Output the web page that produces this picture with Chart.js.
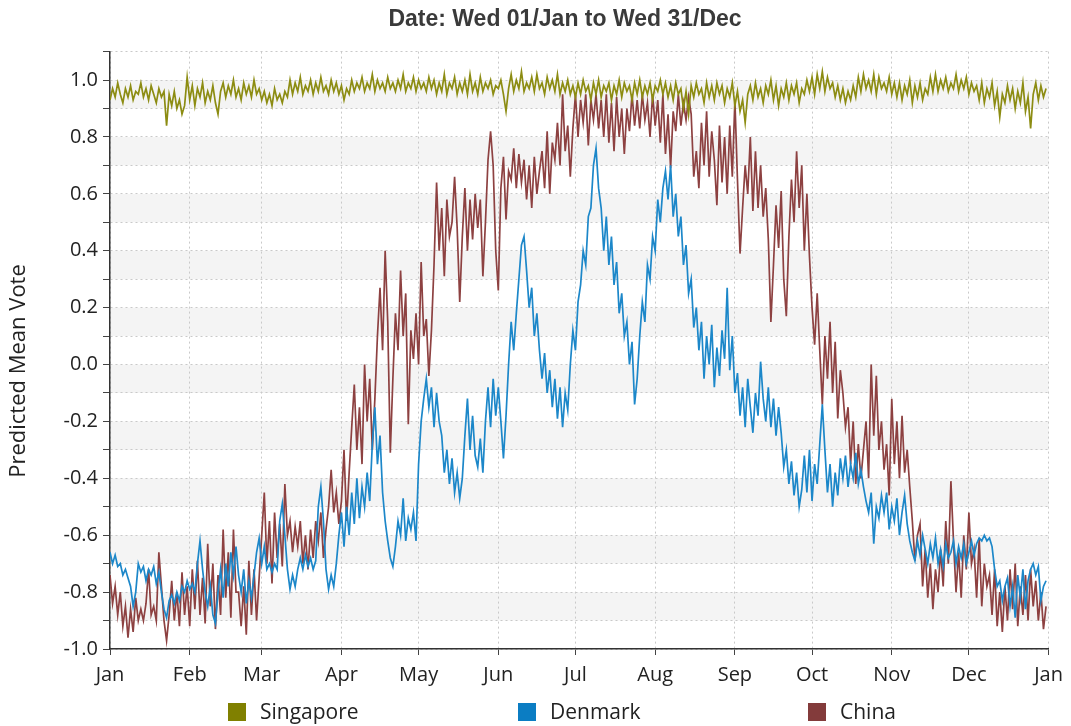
<!DOCTYPE html>
<html><head><meta charset="utf-8">
<script src="https://cdn.jsdelivr.net/npm/chart.js@4.4.1/dist/chart.umd.min.js"></script>
<style>html,body{margin:0;padding:0;background:#fff;}canvas{display:block;}</style>
</head><body>
<canvas id="c" width="1071" height="726"></canvas>
<script>
const chartTitle = 'Date: Wed 01/Jan to Wed 31/Dec';
const yAxisTitle = 'Predicted Mean Vote';
const seriesNames = ['Singapore', 'Denmark', 'China'];
const monthLabels = ['Jan','Feb','Mar','Apr','May','Jun','Jul','Aug','Sep','Oct','Nov','Dec','Jan'];
const monthStartDays = [0,31,59,90,120,151,181,212,243,273,304,334,365];

// daily values, day 0 = 1 Jan
const singapore = [
0.93,0.97,0.94,0.99,0.95,0.92,0.97,0.94,0.98,0.93,0.96,
0.95,0.99,0.94,0.97,0.93,0.98,0.95,0.92,0.97,0.94,0.96,
0.84,0.95,0.91,0.96,0.90,0.93,0.88,0.91,
1.01,0.93,0.98,0.91,0.97,0.94,0.99,0.92,0.96,0.93,0.98,
0.92,0.88,0.96,
0.99,0.94,0.98,0.95,1.00,0.94,0.97,0.93,0.99,0.95,0.98,0.94,1.00,0.95,0.97,0.93,
0.96,0.92,0.95,0.91,0.97,0.93,0.95,0.92,0.96,0.94,
1.00,0.95,0.99,0.96,1.01,0.95,0.98,0.96,1.00,0.95,0.99,0.96,1.01,0.96,0.98,0.95,1.00,0.96,0.99,0.95,0.98,
0.93,0.97,0.95,
1.00,0.96,0.99,0.97,1.01,0.96,0.99,0.97,1.02,0.96,1.00,0.97,0.99,0.96,1.01,0.97,
0.99,0.96,1.00,0.97,1.02,0.96,0.99,0.97,1.01,0.96,1.00,0.97,0.99,0.96,1.01,0.97,
1.00,0.95,0.99,0.96,1.02,0.95,0.99,0.97,1.01,0.95,0.99,0.96,1.00,0.95,1.02,0.96,0.99,0.95,1.01,0.96,0.99,0.97,1.00,0.95,0.98,
0.97,1.00,0.95,0.89,0.97,
1.02,0.96,1.00,0.97,1.03,0.96,0.99,0.97,1.01,0.96,1.02,0.97,0.99,0.95,1.01,0.97,1.00,0.96,1.02,0.95,0.99,0.96,1.00,0.95,0.98,0.94,0.99,0.95,1.00,0.96,
0.98,0.93,0.99,0.95,1.00,0.94,0.98,0.96,0.99,0.93,0.98,0.95,1.00,0.94,0.99,0.96,0.98,0.93,0.99,0.95,1.00,0.94,0.98,0.95,0.99,0.93,0.98,0.96,1.00,0.95,
0.99,0.94,0.98,0.93,0.99,0.95,0.97,0.90,0.96,0.88,0.98,0.94,0.99,0.95,0.97,0.92,0.99,0.94,0.98,0.93,0.99,0.95,0.98,0.92,0.97,0.94,0.99,0.91,0.96,0.89,
0.93,0.85,0.95,
0.98,0.93,0.99,0.94,0.97,0.92,0.98,0.95,1.00,0.93,0.98,0.91,0.97,0.94,0.99,0.93,0.98,0.95,0.99,0.92,0.97,0.95,
1.00,0.96,1.01,0.95,1.02,0.97,1.03,0.96,1.01,0.97,0.99,0.94,0.98,0.93,0.97,0.92,0.96,0.93,0.98,0.94,
1.01,0.96,1.02,0.97,1.00,0.96,1.02,0.95,1.01,0.97,0.99,0.96,1.01,0.95,0.99,
0.94,0.99,0.93,0.98,0.95,1.00,0.92,0.98,0.94,0.99,0.93,0.97,0.95,1.01,0.96,
1.02,0.96,1.00,0.97,1.01,0.96,0.99,0.97,1.02,0.96,1.00,0.97,1.01,0.95,0.99,0.96,
0.98,0.93,0.99,0.92,0.97,0.94,0.99,0.91,0.96,0.87,0.95,0.92,0.98,0.93,0.97,0.90,0.96,0.92,0.99,0.89,0.94,
0.83,
0.95,0.99,0.93,0.98,0.94,0.97
];

const denmark = [
-0.66,-0.70,-0.67,-0.71,-0.70,-0.74,-0.72,-0.75,-0.78,-0.85,-0.80,-0.70,
-0.73,-0.71,-0.76,-0.72,-0.74,-0.71,-0.77,-0.73,
-0.80,-0.86,-0.89,-0.83,-0.81,-0.84,-0.80,-0.83,
-0.78,-0.80,-0.76,-0.79,-0.77,-0.80,
-0.70,-0.62,-0.72,
-0.80,-0.85,-0.78,-0.88,-0.91,
-0.80,-0.72,-0.82,-0.70,-0.78,-0.66,-0.74,-0.64,
-0.74,-0.80,-0.72,-0.84,-0.76,-0.82,-0.74,
-0.66,-0.61,-0.70,-0.64,
-0.72,-0.70,-0.73,-0.70,-0.72,
-0.55,-0.49,-0.60,
-0.72,-0.79,-0.74,-0.78,-0.72,
-0.68,-0.72,-0.67,-0.71,-0.68,-0.72,-0.69,
-0.50,-0.43,-0.55,
-0.72,-0.79,-0.74,-0.78,-0.70,
-0.60,-0.52,-0.64,-0.50,-0.60,
-0.45,-0.56,-0.40,-0.54,-0.43,
-0.50,-0.38,-0.48,
-0.28,-0.15,
-0.35,-0.25,-0.45,
-0.55,-0.62,-0.68,-0.71,-0.64,
-0.55,-0.60,-0.47,-0.62,-0.54,-0.58,-0.52,-0.62,
-0.35,-0.20,
-0.12,-0.05,-0.15,-0.08,
-0.22,-0.10,-0.20,
-0.25,-0.38,-0.30,-0.42,-0.33,-0.45,-0.38,-0.47,-0.40,
-0.25,-0.12,-0.30,-0.18,-0.32,
-0.36,-0.26,-0.38,
-0.20,-0.08,-0.22,-0.05,-0.18,-0.08,
-0.20,-0.33,-0.18,
0.00,0.15,0.05,0.18,
0.30,0.42,0.45,0.33,
0.20,0.27,0.10,0.18,
0.05,-0.05,0.04,-0.10,
-0.02,-0.15,-0.05,-0.19,-0.08,-0.22,-0.10,-0.16,
0.00,0.12,0.05,0.22,
0.28,0.40,0.35,0.52,0.55,
0.70,0.76,0.62,
0.55,0.40,0.52,0.35,0.45,
0.28,0.36,0.18,0.25,0.10,
0.15,0.00,0.08,-0.14,-0.05,
0.10,0.22,0.15,0.35,0.30,
0.45,0.40,0.58,0.50,
0.62,0.68,0.58,0.70,
0.52,0.60,0.45,0.52,
0.35,0.42,0.25,0.30,
0.13,0.20,0.05,0.15,
-0.05,0.10,0.00,0.14,-0.08,0.06,-0.04,0.12,0.02,0.27,-0.02,0.10,
-0.10,-0.03,-0.18,-0.08,-0.22,-0.05,-0.15,-0.24,-0.10,-0.18,0.01,
-0.12,-0.20,-0.08,-0.22,-0.12,-0.25,-0.15,-0.24,
-0.36,-0.30,-0.42,-0.34,-0.46,-0.38,-0.50,-0.44,
-0.32,-0.45,-0.30,-0.48,-0.35,-0.42,-0.28,-0.14,
-0.30,-0.45,-0.35,-0.50,-0.38,-0.46,-0.33,
-0.40,-0.32,-0.43,-0.35,-0.40,-0.31,-0.42,-0.37,-0.43,
-0.48,-0.52,-0.45,-0.63,-0.50,-0.54,-0.46,
-0.52,-0.45,-0.58,-0.50,-0.55,-0.47,-0.60,-0.52,-0.46,-0.56,-0.62,
-0.66,-0.69,-0.62,-0.67,-0.60,
-0.65,-0.70,-0.63,-0.68,-0.61,-0.70,-0.65,-0.71,-0.63,-0.68,
-0.66,-0.62,-0.70,-0.64,-0.68,-0.63,-0.70,-0.66,-0.62,-0.67,
-0.63,-0.61,-0.62,-0.60,-0.62,-0.61,-0.64,
-0.72,-0.78,-0.76,-0.83,-0.78,
-0.75,-0.85,-0.78,-0.89,-0.74,-0.82,-0.72,-0.86,-0.76,
-0.72,-0.70,-0.74,-0.71,
-0.83,-0.78,-0.76
];

const china = [
-0.74,-0.84,-0.78,
-0.88,-0.80,-0.92,-0.85,-0.96,
-0.86,-0.94,-0.82,-0.90,
-0.86,-0.90,-0.84,-0.72,-0.88,-0.85,-0.90,
-0.66,-0.78,
-0.90,-0.97,-0.88,
-0.76,-0.90,-0.80,-0.92,
-0.73,-0.88,-0.78,-0.92,-0.72,-0.86,
-0.69,-0.88,-0.75,-0.91,
-0.63,-0.85,-0.70,-0.93,-0.74,-0.88,
-0.58,-0.82,-0.66,-0.89,-0.58,-0.80,
-0.80,-0.92,-0.78,-0.95,
-0.69,-0.88,-0.72,-0.90,-0.75,
-0.60,-0.45,-0.70,-0.55,-0.77,
-0.52,-0.68,-0.56,-0.71,-0.42,
-0.60,-0.55,-0.66,-0.57,-0.64,
-0.55,-0.70,-0.60,-0.72,-0.58,-0.68,-0.55,
-0.62,-0.52,-0.68,-0.58,
-0.50,-0.37,-0.52,-0.45,-0.56,
-0.48,-0.30,-0.55,-0.38,
-0.22,-0.07,-0.30,-0.15,-0.35,
0.00,-0.20,-0.05,-0.30,-0.12,
0.10,0.27,0.05,0.40,0.15,
-0.31,-0.05,
0.18,0.05,0.33,0.10,0.25,-0.21,0.12,
0.02,0.18,0.00,0.36,
0.10,0.16,-0.04,0.12,
0.35,0.64,0.40,
0.55,0.31,0.58,0.45,
0.50,0.66,0.48,0.22,
0.45,0.62,0.40,0.58,0.44,0.60,
0.48,0.58,0.31,0.50,
0.72,0.82,0.70,
0.40,0.26,
0.62,0.73,0.51,0.68,
0.65,0.76,0.62,0.74,0.64,0.72,
0.58,0.70,0.55,0.73,0.60,0.68,
0.75,0.62,0.82,0.60,0.78,
0.72,0.85,0.70,0.95,0.75,0.84,0.66,
0.83,0.95,0.80,0.93,0.85,0.95,0.77,0.93,
0.86,0.95,0.83,0.93,0.80,0.95,
0.78,0.92,0.75,0.94,0.80,0.90,0.74,
0.90,0.82,0.95,0.84,0.93,0.83,0.95,0.86,0.92,
0.80,0.95,0.84,0.93,0.78,0.95,0.74,0.88,0.69,
0.89,0.82,0.95,0.84,0.92,0.86,0.94,0.88,
0.66,0.75,0.62,
0.85,0.70,0.89,0.66,0.82,0.72,
0.56,0.84,0.64,0.80,0.60,0.84,0.66,0.93,
0.65,0.39,0.55,0.70,
0.60,0.80,0.54,0.75,0.55,0.70,0.52,0.62,
0.44,0.15,0.35,
0.56,0.41,0.61,0.30,0.17,0.45,
0.65,0.50,0.75,0.55,0.70,0.40,0.60,
0.38,0.20,0.07,0.25,
0.05,-0.14,0.10,-0.05,0.15,-0.10,0.08,-0.19,-0.02,
-0.10,-0.22,-0.15,-0.35,-0.20,-0.42,-0.28,-0.40,
-0.30,-0.20,-0.40,0.00,-0.25,
-0.04,-0.30,-0.20,-0.37,-0.28,
-0.46,-0.12,-0.35,-0.20,
-0.40,-0.18,-0.38,-0.30,
-0.43,-0.55,-0.69,
-0.60,-0.56,-0.78,-0.65,
-0.82,-0.70,-0.86,-0.72,-0.80,
-0.65,-0.78,-0.55,-0.70,-0.41,
-0.62,-0.80,-0.66,-0.82,-0.60,
-0.72,-0.52,-0.70,
-0.65,-0.82,-0.61,-0.85,-0.70,-0.78,
-0.74,-0.88,-0.72,-0.92,-0.80,-0.94,-0.78,-0.90,
-0.72,-0.86,-0.70,-0.92,-0.78,-0.88,-0.74,-0.90,
-0.72,-0.85,-0.76,-0.90,-0.80,
-0.93,-0.85
];

const seriesColors = ['#8c8c12', '#1c87c9', '#8d4141'];
const legendColors = ['#808000', '#0b7dc3', '#833b3b'];

const toPoints = arr => arr.map((v, i) => ({x: i, y: v}));

const bandPlugin = {
  id: 'bands',
  beforeDraw(chart) {
    const ys = chart.scales.y, a = chart.chartArea, ctx = chart.ctx;
    ctx.save();
    ctx.fillStyle = '#f4f4f4';
    ys.ticks.forEach(t => {
      const k = Math.round(t.value * 10);
      if (k % 2 === 0 && k > -10 && k <= 10) {
        const top = ys.getPixelForValue(t.value);
        const bot = ys.getPixelForValue(t.value - 0.1);
        ctx.fillRect(a.left, top, a.right - a.left, bot - top);
      }
    });
    ctx.restore();
  }
};

// let the y tick labels extend past the (narrow) axis box without being clipped
const unclipPlugin = {
  id: 'unclip',
  afterLayout(chart) { chart.scales.y.left = 0; }
};

const extrasPlugin = {
  id: 'extras',
  afterDraw(chart) {
    const ctx = chart.ctx;
    ctx.save();
    ctx.translate(19, 371);
    ctx.rotate(-Math.PI / 2);
    ctx.font = '22px "Open Sans"';
    ctx.fillStyle = '#222';
    ctx.textAlign = 'center';
    ctx.textBaseline = 'middle';
    ctx.fillText(yAxisTitle, 0, 0);
    ctx.restore();
    ctx.save();
    ctx.font = '21px "Open Sans"';
    ctx.textBaseline = 'middle';
    ctx.textAlign = 'left';
    const yc = chart.height - 14;
    let x = 228;
    seriesNames.forEach((n, i) => {
      ctx.fillStyle = legendColors[i];
      ctx.fillRect(x, yc - 9, 18, 18);
      ctx.fillStyle = '#222';
      ctx.fillText(n, x + 32, yc + 1);
      x += 290;
    });
    ctx.restore();
  }
};

const ctx = document.getElementById('c').getContext('2d');
new Chart(ctx, {
  type: 'line',
  data: {
    datasets: [
      {label: seriesNames[0], data: toPoints(singapore), borderColor: seriesColors[0], backgroundColor: seriesColors[0]},
      {label: seriesNames[1], data: toPoints(denmark), borderColor: seriesColors[1], backgroundColor: seriesColors[1]},
      {label: seriesNames[2], data: toPoints(china), borderColor: seriesColors[2], backgroundColor: seriesColors[2]}
    ]
  },
  options: {
    responsive: false,
    animation: false,
    devicePixelRatio: 1,
    parsing: false,
    normalized: true,
    elements: {
      line: {borderWidth: 1.7, tension: 0},
      point: {radius: 0, hoverRadius: 0}
    },
    layout: {padding: {left: 68, right: 9, top: 0, bottom: 31}},
    plugins: {
      legend: {display: false},
      tooltip: {enabled: false},
      title: {
        display: true,
        text: chartTitle,
        color: '#3a3a3a',
        font: {family: '"Liberation Sans", Arial, sans-serif', size: 23, weight: 'bold'},
        padding: {top: 6, bottom: 18}
      }
    },
    scales: {
      x: {
        type: 'linear',
        min: 0,
        max: 365,
        afterBuildTicks: axis => { axis.ticks = monthStartDays.map(v => ({value: v})); },
        ticks: {
          autoSkip: false, maxRotation: 0, padding: 8,
          color: '#222',
          font: {family: '"Open Sans"', size: 20},
          callback: v => monthLabels[monthStartDays.indexOf(v)]
        },
        grid: {color: '#c9c9c9', tickColor: '#444', tickLength: 6, tickBorderDash: [], drawOnChartArea: true},
        border: {display: true, color: '#333', width: 1.5, dash: [2, 3]}
      },
      y: {
        type: 'linear',
        min: -1,
        max: 1.1,
        afterBuildTicks: axis => {
          const t = [];
          for (let k = -10; k <= 11; k++) t.push({value: k / 10});
          axis.ticks = t;
        },
        afterFit: s => { s.width = 42; },
        ticks: {
          autoSkip: false, padding: 5,
          color: '#222',
          font: {family: '"Open Sans"', size: 20},
          callback: v => {
            const k = Math.round(v * 10);
            return (k % 2 === 0 && k <= 10) ? (k / 10).toFixed(1) : '';
          }
        },
        grid: {color: '#c9c9c9', tickColor: '#444', tickLength: 7, tickBorderDash: []},
        border: {display: true, color: '#333', width: 1.5, dash: [2, 3]}
      }
    }
  },
  plugins: [bandPlugin, unclipPlugin, extrasPlugin]
});
</script>
</body></html>
